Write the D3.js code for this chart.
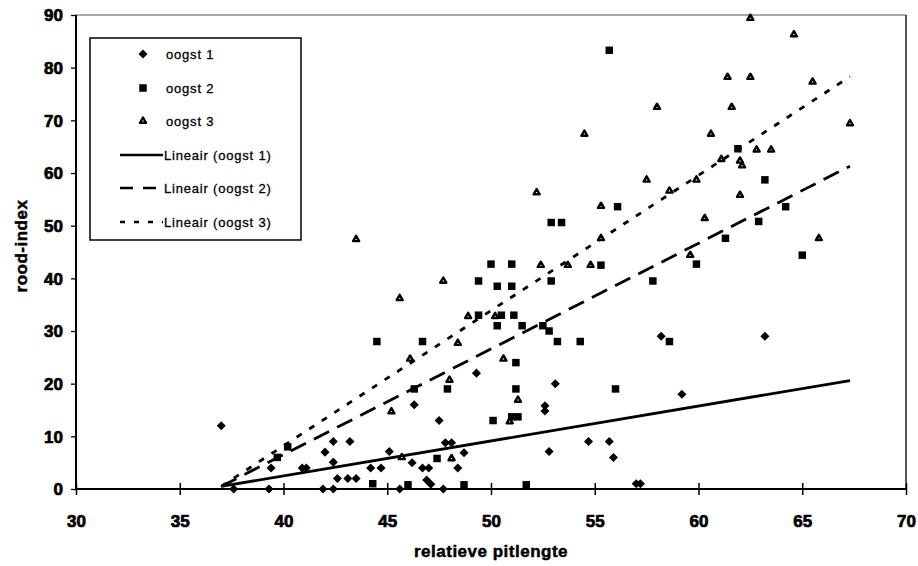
<!DOCTYPE html>
<html><head><meta charset="utf-8">
<script src="https://cdn.jsdelivr.net/npm/d3@7"></script>
<style>
body{margin:0;background:#fff;}
svg{display:block;font-family:"Liberation Sans",Arial,sans-serif;}
</style></head>
<body><svg id="c" width="918" height="566"></svg>
<script>
// ---- data ----
const seriesNames = ["oogst 1", "oogst 2", "oogst 3"];
const trendNames = ["Lineair (oogst 1)", "Lineair (oogst 2)", "Lineair (oogst 3)"];
const xTicks = [30, 35, 40, 45, 50, 55, 60, 65, 70];
const yTicks = [0, 10, 20, 30, 40, 50, 60, 70, 80, 90];

const oogst1 = [
  [37.0,12.0],[37.6,0],[39.3,0],[39.4,4],[40.9,4],[41.1,4],[41.9,0],[42.4,0],
  [42.0,7],[42.4,9],[43.2,9],[42.4,5.1],[42.6,2],[43.1,2],[43.5,2],[44.2,4],
  [44.7,4],[45.1,7.1],[46.2,5],[46.7,4],[47.0,4],[46.9,1.7],[47.1,0.9],[47.7,0],
  [45.6,0],[47.8,8.8],[48.1,8.8],[48.7,6.9],[48.4,4],[52.8,7.1],[47.5,13],[46.3,16],
  [49.3,22],[52.6,15.8],[52.6,14.8],[53.1,20],[58.2,29],[63.2,29],[59.2,18],
  [54.7,9],[55.7,9],[55.9,6],[57.0,1],[57.2,1]
];
const oogst2 = [
  [40.2,8],[39.7,6],[44.3,1],[46.0,0.8],[48.7,0.8],[51.7,0.8],[47.4,5.8],[46.3,19],
  [47.9,19],[50.1,13],[51.0,13.7],[51.3,13.7],[51.2,19],[54.3,28],[58.6,28],[56.0,19],
  [50.0,42.7],[51.0,42.7],[49.4,39.5],[50.3,38.5],[51.0,38.5],[52.9,39.5],[49.4,33],
  [50.5,33],[51.1,33],[50.3,31],[51.5,31],[52.5,31],[52.8,30],[53.2,28],[44.5,28],
  [46.7,28],[51.2,24],[55.7,83.3],[61.9,64.6],[63.2,58.7],[56.1,53.6],[52.9,50.6],
  [53.4,50.6],[62.9,50.8],[61.3,47.6],[64.2,53.6],[65.0,44.4],[55.3,42.5],[59.9,42.7],
  [57.8,39.5]
];
const oogst3 = [
  [45.7,6],[48.1,5.8],[45.2,14.7],[48.0,20.7],[50.9,12.8],[51.3,16.9],[52.4,42.5],
  [53.7,42.5],[54.8,42.5],[47.7,39.5],[45.6,36.2],[48.9,32.8],[50.2,32.8],[48.4,27.7],
  [46.1,24.7],[50.6,24.7],[62.5,89.4],[64.6,86.3],[61.4,78.2],[62.5,78.2],[65.5,77.3],
  [58.0,72.5],[61.6,72.5],[54.5,67.4],[60.6,67.4],[67.3,69.4],[62.8,64.4],[63.5,64.4],
  [61.1,62.6],[62.0,62.3],[62.1,61.4],[59.9,58.7],[57.5,58.7],[58.6,56.6],[62.0,55.8],
  [55.3,53.7],[55.3,47.6],[60.3,51.4],[65.8,47.6],[59.6,44.4],[43.5,47.4],[52.2,56.3]
];
// trendline end points [x0, y0, x1, y1]
const trend1 = [37.0, 0.5, 67.3, 20.6];
const trend2 = [37.0, 0.5, 67.3, 61.3];
const trend3 = [37.0, 0.5, 67.3, 78.3];

// ---- drawing ----
const svg = d3.select("#c");
const L = 76, R = 906, T = 15, B = 489;
const x = d3.scaleLinear().domain([30, 70]).range([L, R]);
const y = d3.scaleLinear().domain([0, 90]).range([B, T]);

// frame
svg.append("line").attr("x1", L).attr("x2", R).attr("y1", T).attr("y2", T)
  .attr("stroke", "#555").attr("stroke-width", 1);
svg.append("line").attr("x1", R).attr("x2", R).attr("y1", T).attr("y2", B)
  .attr("stroke", "#111").attr("stroke-width", 1.4);

function heavy(sel, sw) {
  sel.attr("fill", "#000").attr("stroke", "#000").attr("stroke-width", sw)
    .attr("paint-order", "stroke").attr("stroke-linejoin", "round");
}

// axes
const xAxis = svg.append("g").attr("transform", `translate(0,${B})`)
  .call(d3.axisBottom(x).tickValues(xTicks).tickSize(0).tickPadding(0).tickFormat(d3.format("d")));
xAxis.select(".domain").remove();
xAxis.selectAll(".tick line").remove();
xAxis.selectAll(".tick").append("line").attr("y1", -6).attr("y2", 6).attr("stroke", "#000").attr("stroke-width", 1.5);
xAxis.selectAll(".tick text").attr("dy", 0).attr("y", 38)
  .attr("font-size", 17).attr("font-weight", "bold").call(heavy, 0.7);

const yAxis = svg.append("g").attr("transform", `translate(${L},0)`)
  .call(d3.axisLeft(y).tickValues(yTicks).tickSize(0).tickPadding(0));
yAxis.select(".domain").remove();
yAxis.selectAll(".tick line").remove();
yAxis.selectAll(".tick").append("line").attr("x1", -5).attr("x2", 0).attr("stroke", "#000").attr("stroke-width", 1.3);
yAxis.selectAll(".tick text").attr("x", -13).attr("dy", "0.35em")
  .attr("font-size", 17).attr("font-weight", "bold").call(heavy, 0.7);

svg.append("line").attr("x1", L).attr("x2", R).attr("y1", B).attr("y2", B).attr("stroke", "#000").attr("stroke-width", 2);
svg.append("line").attr("x1", L).attr("x2", L).attr("y1", T).attr("y2", B).attr("stroke", "#000").attr("stroke-width", 2);

// axis titles
svg.append("text").attr("x", 491).attr("y", 557).attr("text-anchor", "middle")
  .attr("font-size", 17).attr("font-weight", "bold").attr("letter-spacing", 0.5)
  .call(heavy, 0.5).text("relatieve pitlengte");
svg.append("text").attr("transform", "translate(27,246) rotate(-90)").attr("text-anchor", "middle")
  .attr("font-size", 17).attr("font-weight", "bold").attr("letter-spacing", 0.5)
  .call(heavy, 0.5).text("rood-index");

// trendlines
const dashes = [null, "17,9", "6,9"];
const trends = [trend1, trend2, trend3];
const gT = svg.append("g");
trends.forEach((t, i) => {
  gT.append("line").attr("x1", x(t[0])).attr("y1", y(t[1])).attr("x2", x(t[2])).attr("y2", y(t[3]))
    .attr("stroke", "#000").attr("stroke-width", 2.8).attr("stroke-dasharray", dashes[i]);
});

// markers
const diamond = d3.symbol().type(d3.symbolDiamond2).size(52);
const square = d3.symbol().type(d3.symbolSquare).size(56);
const tri = d3.symbol().type(d3.symbolTriangle2).size(26);
function drawMarkers(g, data, kind) {
  const sel = g.selectAll("path").data(data).join("path")
    .attr("transform", d => `translate(${x(d[0])},${y(d[1])})`);
  if (kind === 0) sel.attr("d", diamond).attr("fill", "#000");
  else if (kind === 1) sel.attr("d", square).attr("fill", "#000");
  else sel.attr("d", tri).attr("fill", "#fff").attr("stroke", "#000").attr("stroke-width", 2.4).attr("stroke-linejoin", "round");
}
drawMarkers(svg.append("g"), oogst1, 0);
drawMarkers(svg.append("g"), oogst2, 1);
drawMarkers(svg.append("g"), oogst3, 2);

// legend
const lg = svg.append("g");
lg.append("rect").attr("x", 90).attr("y", 38).attr("width", 211).attr("height", 202)
  .attr("fill", "#fff").attr("stroke", "#000").attr("stroke-width", 1.5);
const rowY = [54, 88, 121, 155, 188, 222];
const symGen = [diamond, square, tri];
seriesNames.forEach((n, i) => {
  const p = lg.append("path").attr("d", symGen[i]).attr("transform", `translate(143,${rowY[i]})`);
  if (i === 2) p.attr("fill", "#fff").attr("stroke", "#000").attr("stroke-width", 2.4).attr("stroke-linejoin", "round");
  else p.attr("fill", "#000");
  lg.append("text").attr("x", 166).attr("y", rowY[i]).attr("dy", "0.35em").attr("font-size", 13)
    .attr("letter-spacing", 0.8).call(heavy, 0.3).text(n);
});
trendNames.forEach((n, i) => {
  const ry = rowY[i + 3];
  lg.append("line").attr("x1", 120).attr("x2", 163).attr("y1", ry).attr("y2", ry)
    .attr("stroke", "#000").attr("stroke-width", 2.6).attr("stroke-dasharray", i === 1 ? "13,10" : (i === 2 ? "5,9" : null));
  lg.append("text").attr("x", 164).attr("y", ry).attr("dy", "0.35em").attr("font-size", 13)
    .attr("letter-spacing", 0.8).call(heavy, 0.3).text(n);
});
</script></body></html>
